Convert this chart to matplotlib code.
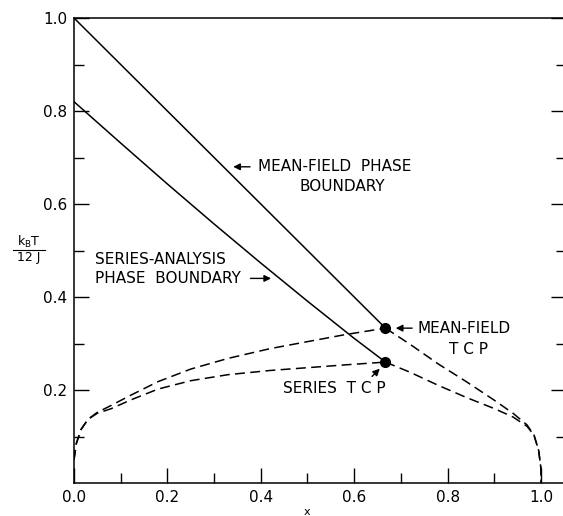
import matplotlib
matplotlib.use("Agg")
import matplotlib.pyplot as plt
from matplotlib.ticker import FixedLocator, FixedFormatter

# ---- data ----
mf_boundary_x = [0.0, 0.667]
mf_boundary_T = [1.0, 0.333]

series_boundary_x = [0.0, 0.1, 0.2, 0.3, 0.4, 0.5, 0.6, 0.667]
series_boundary_T = [0.82, 0.731, 0.643, 0.557, 0.473, 0.391, 0.311, 0.26]

mf_left_x = [0.0, 0.005, 0.015, 0.03, 0.05, 0.08, 0.12, 0.18, 0.25, 0.33, 0.42, 0.50, 0.58, 0.667]
mf_left_T = [0.05, 0.085, 0.115, 0.137, 0.152, 0.167, 0.188, 0.218, 0.245, 0.268, 0.289, 0.304, 0.319, 0.333]
series_left_x = [0.0, 0.005, 0.015, 0.03, 0.05, 0.08, 0.12, 0.18, 0.25, 0.33, 0.42, 0.50, 0.58, 0.667]
series_left_T = [0.05, 0.085, 0.115, 0.137, 0.150, 0.160, 0.178, 0.202, 0.220, 0.233, 0.242, 0.248, 0.254, 0.26]

mf_right_x = [0.667, 0.72, 0.78, 0.84, 0.90, 0.94, 0.97, 0.985, 0.995, 1.0, 1.0]
mf_right_T = [0.333, 0.298, 0.256, 0.218, 0.178, 0.150, 0.125, 0.103, 0.07, 0.03, 0.0]
series_right_x = [0.667, 0.72, 0.78, 0.84, 0.90, 0.94, 0.97, 0.985, 0.995, 1.0, 1.0]
series_right_T = [0.26, 0.238, 0.210, 0.184, 0.160, 0.142, 0.122, 0.103, 0.07, 0.03, 0.0]

tcp_x = [0.667, 0.667]
tcp_T = [0.333, 0.26]

x_ticks = [0.0, 0.2, 0.4, 0.6, 0.8, 1.0]
x_ticklabels = ["0.0", "0.2", "0.4", "0.6", "0.8", "1.0"]
y_ticks = [0.2, 0.4, 0.6, 0.8, 1.0]
y_ticklabels = ["0.2", "0.4", "0.6", "0.8", "1.0"]

W, H = 563, 516
fig = plt.figure(figsize=(W / 100, H / 100), dpi=100)
ax = fig.add_axes([74 / W, 33 / H, (566 - 74) / W, (498 - 33) / H])
ax.set_xlim(0, (566 - 74) / 467)
ax.set_ylim(0, 1.0)

lw = 1.1
ax.plot(mf_boundary_x, mf_boundary_T, color="black", lw=lw)
ax.plot(series_boundary_x, series_boundary_T, color="black", lw=lw)
dash = (6.5, 3.5)
for xs, ts in [(mf_left_x, mf_left_T), (series_left_x, series_left_T),
               (mf_right_x, mf_right_T), (series_right_x, series_right_T)]:
    ax.plot(xs, ts, color="black", lw=lw, linestyle=(0, dash))
ax.plot(tcp_x, tcp_T, "o", color="black", markersize=7, zorder=5)

# ticks
ax.xaxis.set_major_locator(FixedLocator(x_ticks))
ax.xaxis.set_major_formatter(FixedFormatter(x_ticklabels))
ax.xaxis.set_minor_locator(FixedLocator([0.1, 0.3, 0.5, 0.7, 0.9]))
ax.yaxis.set_major_locator(FixedLocator(y_ticks))
ax.yaxis.set_major_formatter(FixedFormatter(y_ticklabels))
ax.yaxis.set_minor_locator(FixedLocator([0.1, 0.3, 0.5, 0.7, 0.9]))
ax.tick_params(which="both", direction="in", top=False, right=True, width=1.0,
               labelsize=11, pad=5)
ax.tick_params(which="major", length=11)
ax.tick_params(which="minor", length=7)
for s in ax.spines.values():
    s.set_linewidth(1.1)

fs = 11
arrow = dict(arrowstyle="-|>", color="black", lw=1, mutation_scale=10)
ax.annotate("", xy=(0.335, 0.680), xytext=(0.383, 0.680), arrowprops=arrow)
ax.text(0.394, 0.680, "MEAN-FIELD  PHASE", fontsize=fs, va="center", ha="left")
ax.text(0.575, 0.637, "BOUNDARY", fontsize=fs, va="center", ha="center")

ax.text(0.045, 0.481, "SERIES-ANALYSIS", fontsize=fs, va="center", ha="left")
ax.text(0.045, 0.440, "PHASE  BOUNDARY", fontsize=fs, va="center", ha="left")
ax.annotate("", xy=(0.428, 0.440), xytext=(0.372, 0.440), arrowprops=arrow)

ax.annotate("", xy=(0.683, 0.333), xytext=(0.730, 0.333), arrowprops=arrow)
ax.text(0.735, 0.333, "MEAN-FIELD", fontsize=fs, va="center", ha="left")
ax.text(0.844, 0.288, "T C P", fontsize=fs, va="center", ha="center")

ax.annotate("", xy=(0.659, 0.250), xytext=(0.634, 0.225), arrowprops=arrow)
ax.text(0.448, 0.204, "SERIES  T C P", fontsize=fs, va="center", ha="left")

# axis labels
fig.text(29 / W, 1 - 242 / H, r"$\mathregular{k_B T}$", fontsize=9, ha="center", va="center")
fig.add_artist(plt.Line2D([13 / W, 45 / W], [1 - 250 / H, 1 - 250 / H], color="black", lw=0.8))
fig.text(29 / W, 1 - 258 / H, "12 J", fontsize=9, ha="center", va="center")
fig.text(307 / W, 1 - 512 / H, "x", fontsize=8, ha="center", va="center")

fig.savefig("out.png", dpi=100)
